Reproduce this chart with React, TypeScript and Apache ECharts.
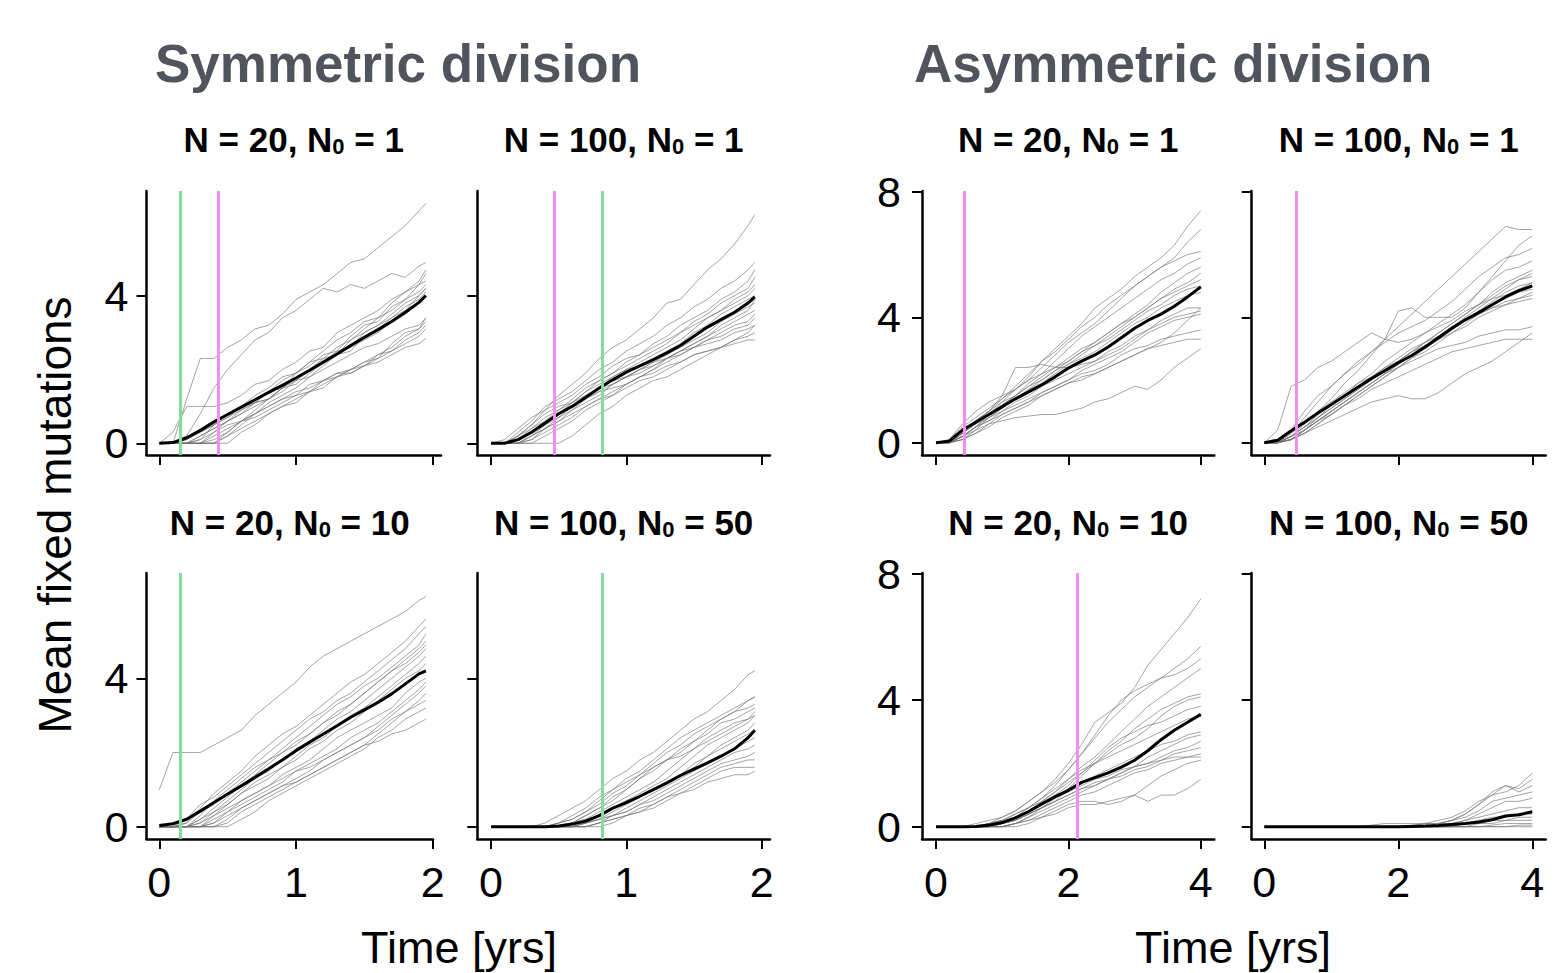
import React, { useEffect, useRef } from "react";
import * as echarts from "echarts";

// ---------- DATA ----------
const symX = [0, 0.1, 0.2, 0.3, 0.4, 0.5, 0.6, 0.7, 0.8, 0.9, 1.0, 1.1, 1.2, 1.3, 1.4, 1.5, 1.6, 1.7, 1.8, 1.9, 1.95];
const asymX = [0, 0.2, 0.4, 0.6, 0.8, 1.0, 1.2, 1.4, 1.6, 1.8, 2.0, 2.2, 2.4, 2.6, 2.8, 3.0, 3.2, 3.4, 3.6, 3.8, 4.0];

const symXTicks = [0, 1, 2];
const asymXTicks = [0, 2, 4];
const symYTicks = [0, 4];
const asymYTicks = [0, 4, 8];

// Symmetric, N = 20, N0 = 1
const symTLRuns = [
  [0, 0, 1.2, 2.3, 2.3, 2.6, 2.8, 3.1, 3.2, 3.5, 3.9, 4.1, 4.3, 4.6, 4.9, 5.0, 5.3, 5.6, 5.9, 6.3, 6.5],
  [0, 0, 0.2, 0.8, 1.5, 2.0, 2.4, 2.8, 3.0, 3.4, 3.6, 3.9, 4.2, 4.1, 4.3, 4.2, 4.4, 4.6, 4.5, 4.8, 4.9],
  [0, 0.3, 1, 1, 1, 1.1, 1.3, 1.6, 1.7, 2.0, 2.2, 2.5, 2.6, 3.0, 3.2, 3.4, 3.6, 3.9, 4.1, 4.4, 4.7],
  [0, 0, 0, 0.1, 0.5, 0.8, 1.0, 1.3, 1.5, 1.8, 1.9, 2.2, 2.5, 2.8, 3.0, 3.3, 3.4, 3.8, 4.1, 4.3, 4.6],
  [0, 0, 0, 0, 0.3, 0.6, 0.8, 1.1, 1.4, 1.5, 1.9, 2.1, 2.4, 2.5, 2.9, 3.2, 3.3, 3.7, 3.9, 4.3, 4.4],
  [0, 0, 0.1, 0.3, 0.5, 0.7, 1.0, 1.1, 1.4, 1.7, 1.9, 2.2, 2.3, 2.6, 2.8, 3.1, 3.4, 3.6, 3.9, 4.1, 4.3],
  [0, 0, 0, 0, 0, 0.3, 0.6, 0.9, 1.2, 1.4, 1.7, 2.0, 2.3, 2.4, 2.8, 3.0, 3.2, 3.5, 3.8, 4.0, 4.2],
  [0, 0, 0, 0.2, 0.4, 0.6, 0.8, 1.0, 1.2, 1.5, 1.6, 1.9, 2.2, 2.5, 2.6, 3.0, 3.2, 3.4, 3.7, 3.9, 4.1],
  [0, 0, 0, 0, 0.1, 0.3, 0.6, 0.7, 0.9, 1.1, 1.3, 1.4, 1.7, 1.8, 2.0, 2.1, 2.4, 2.6, 2.9, 3.1, 3.4],
  [0, 0, 0, 0, 0, 0.2, 0.4, 0.6, 0.8, 1.0, 1.2, 1.4, 1.5, 1.8, 2.0, 2.2, 2.3, 2.7, 3.0, 3.1, 3.3],
  [0, 0, 0, 0.1, 0.3, 0.5, 0.6, 0.8, 1.0, 1.2, 1.4, 1.5, 1.7, 1.9, 2.0, 2.2, 2.4, 2.5, 2.8, 3.0, 3.2],
  [0, 0, 0, 0, 0, 0, 0.3, 0.5, 0.8, 1.0, 1.1, 1.4, 1.6, 1.8, 1.9, 2.1, 2.3, 2.5, 2.7, 2.9, 3.1],
  [0, 0, 0, 0, 0.2, 0.4, 0.6, 0.8, 1.0, 1.2, 1.3, 1.6, 1.7, 1.9, 1.9, 2.1, 2.2, 2.4, 2.6, 2.7, 2.85],
  [0, 0, 0.1, 0.3, 0.5, 0.7, 0.9, 1.1, 1.2, 1.5, 1.7, 1.8, 2.0, 2.2, 2.4, 2.6, 2.7, 2.9, 3.1, 3.2, 3.4],
  [0, 0, 0, 0, 0, 0.2, 0.5, 0.8, 1.1, 1.3, 1.5, 1.8, 2.1, 2.4, 2.5, 2.9, 3.1, 3.4, 3.6, 4.0, 4.2],
  [0, 0, 0, 0.2, 0.4, 0.6, 0.9, 1.1, 1.2, 1.5, 1.8, 2.0, 2.2, 2.4, 2.6, 2.8, 3.0, 3.3, 3.5, 3.8, 4.0],
];
const symTLMean = [0, 0.02, 0.15, 0.35, 0.58, 0.78, 0.98, 1.18, 1.38, 1.57, 1.77, 1.98, 2.2, 2.42, 2.65, 2.87, 3.08, 3.3, 3.55, 3.82, 4.0];
const symTLGreen = [0.15];
const symTLPink = [0.43];

// Symmetric, N = 100, N0 = 1
const symTRRuns = [
  [0, 0, 0.2, 0.5, 0.9, 1.3, 1.6, 1.9, 2.3, 2.6, 2.8, 3.1, 3.4, 3.8, 3.9, 4.3, 4.7, 5.0, 5.4, 5.9, 6.2],
  [0, 0, 0.3, 0.6, 1.0, 1.2, 1.4, 1.7, 2.0, 2.2, 2.5, 2.7, 2.9, 3.2, 3.4, 3.7, 3.9, 4.2, 4.4, 4.7, 4.9],
  [0, 0.1, 0.4, 0.7, 0.9, 1.1, 1.3, 1.6, 1.8, 2.1, 2.3, 2.4, 2.7, 2.9, 3.2, 3.4, 3.6, 3.9, 4.1, 4.4, 4.7],
  [0, 0, 0.1, 0.3, 0.6, 0.9, 1.2, 1.5, 1.7, 1.9, 2.2, 2.4, 2.6, 2.8, 3.0, 3.3, 3.5, 3.8, 4.0, 4.2, 4.5],
  [0, 0, 0, 0.2, 0.5, 0.8, 1.1, 1.4, 1.7, 1.9, 2.1, 2.3, 2.5, 2.7, 3.0, 3.2, 3.4, 3.6, 3.9, 4.1, 4.3],
  [0, 0, 0.2, 0.4, 0.7, 0.9, 1.1, 1.4, 1.6, 1.8, 2.0, 2.2, 2.4, 2.6, 2.8, 3.1, 3.4, 3.6, 3.8, 4.0, 4.2],
  [0, 0, 0, 0.1, 0.4, 0.7, 1.0, 1.2, 1.5, 1.8, 2.0, 2.1, 2.3, 2.5, 2.7, 3.0, 3.2, 3.5, 3.7, 3.9, 4.0],
  [0, 0, 0.1, 0.3, 0.5, 0.7, 0.9, 1.1, 1.3, 1.6, 1.8, 2.0, 2.2, 2.4, 2.6, 2.8, 3.0, 3.3, 3.5, 3.7, 3.8],
  [0, 0, 0, 0.2, 0.4, 0.6, 0.9, 1.2, 1.4, 1.6, 1.8, 1.9, 2.1, 2.3, 2.5, 2.7, 2.9, 3.1, 3.3, 3.5, 3.6],
  [0, 0, 0, 0, 0, 0, 0.2, 0.5, 0.8, 1.0, 1.3, 1.5, 1.7, 1.8, 2.0, 2.2, 2.4, 2.6, 2.8, 3.0, 3.2],
  [0, 0, 0.1, 0.4, 0.6, 0.8, 1.0, 1.2, 1.5, 1.7, 1.8, 2.0, 2.2, 2.3, 2.5, 2.6, 2.8, 3.0, 3.2, 3.3, 3.5],
  [0, 0, 0, 0.1, 0.3, 0.5, 0.7, 1.0, 1.2, 1.4, 1.6, 1.8, 2.0, 2.2, 2.4, 2.6, 2.8, 2.9, 3.1, 3.2, 3.4],
  [0, 0, 0.2, 0.5, 0.8, 1.0, 1.1, 1.3, 1.5, 1.6, 1.8, 2.0, 2.1, 2.3, 2.4, 2.6, 2.7, 2.8, 3.0, 3.1, 3.2],
  [0, 0, 0, 0.2, 0.4, 0.6, 0.8, 1.0, 1.2, 1.3, 1.5, 1.7, 1.8, 2.0, 2.2, 2.4, 2.5, 2.6, 2.8, 2.9, 3.0],
  [0, 0, 0, 0, 0.2, 0.4, 0.6, 0.9, 1.1, 1.3, 1.6, 1.8, 2.0, 2.3, 2.5, 2.7, 2.9, 3.2, 3.4, 3.6, 3.9],
  [0, 0, 0.1, 0.3, 0.5, 0.8, 1.0, 1.2, 1.4, 1.5, 1.6, 1.8, 1.9, 2.1, 2.2, 2.4, 2.5, 2.6, 2.7, 2.8, 2.8],
];
const symTRMean = [0, 0, 0.1, 0.3, 0.55, 0.8, 1.0, 1.25, 1.5, 1.72, 1.93, 2.1, 2.27, 2.45, 2.65, 2.9, 3.15, 3.35, 3.55, 3.8, 3.97];
const symTRGreen = [0.818];
const symTRPink = [0.473];

// Symmetric, N = 20, N0 = 10
const symBLRuns = [
  [1, 2, 2, 2, 2.2, 2.4, 2.6, 3.0, 3.3, 3.6, 3.9, 4.3, 4.6, 4.8, 5.0, 5.2, 5.4, 5.6, 5.8, 6.1, 6.2],
  [0, 0, 0.1, 0.5, 0.9, 1.2, 1.5, 1.9, 2.2, 2.5, 2.7, 3.0, 3.3, 3.6, 3.9, 4.1, 4.4, 4.7, 5.0, 5.4, 5.6],
  [0, 0, 0.2, 0.6, 0.8, 1.1, 1.4, 1.7, 2.0, 2.3, 2.6, 2.9, 3.1, 3.4, 3.6, 3.9, 4.2, 4.5, 4.8, 5.2, 5.4],
  [0, 0, 0, 0.3, 0.7, 1.0, 1.3, 1.6, 1.8, 2.1, 2.4, 2.7, 3.0, 3.3, 3.5, 3.8, 4.0, 4.3, 4.6, 4.9, 5.2],
  [0, 0, 0, 0.2, 0.5, 0.8, 1.1, 1.4, 1.7, 2.0, 2.3, 2.5, 2.8, 3.1, 3.3, 3.6, 3.9, 4.2, 4.5, 4.8, 5.0],
  [0, 0, 0.1, 0.4, 0.6, 0.9, 1.2, 1.5, 1.8, 2.0, 2.2, 2.5, 2.8, 3.0, 3.3, 3.6, 3.9, 4.2, 4.4, 4.7, 4.9],
  [0, 0, 0, 0.1, 0.4, 0.7, 1.0, 1.3, 1.5, 1.8, 2.1, 2.3, 2.6, 2.9, 3.1, 3.4, 3.7, 4.0, 4.3, 4.6, 4.8],
  [0, 0, 0, 0, 0.3, 0.6, 0.9, 1.2, 1.4, 1.6, 1.9, 2.2, 2.4, 2.7, 3.0, 3.2, 3.5, 3.8, 4.1, 4.4, 4.6],
  [0, 0, 0, 0.2, 0.4, 0.6, 0.9, 1.1, 1.3, 1.6, 1.8, 2.1, 2.3, 2.6, 2.8, 3.1, 3.4, 3.7, 4.0, 4.2, 4.4],
  [0, 0, 0, 0, 0.1, 0.4, 0.7, 0.9, 1.1, 1.4, 1.6, 1.8, 2.1, 2.4, 2.6, 2.8, 3.0, 3.2, 3.6, 3.9, 4.0],
  [0, 0, 0, 0, 0.2, 0.4, 0.6, 0.8, 1.0, 1.2, 1.5, 1.7, 1.9, 2.1, 2.4, 2.6, 2.8, 3.1, 3.4, 3.7, 3.9],
  [0, 0, 0, 0, 0, 0.2, 0.5, 0.7, 0.9, 1.1, 1.3, 1.5, 1.8, 2.0, 2.2, 2.4, 2.7, 3.0, 3.3, 3.6, 3.8],
  [0, 0, 0, 0, 0, 0.1, 0.4, 0.6, 0.8, 1.0, 1.2, 1.4, 1.6, 1.8, 2.0, 2.2, 2.5, 2.8, 3.1, 3.4, 3.6],
  [0, 0, 0, 0.1, 0.3, 0.5, 0.7, 0.9, 1.1, 1.3, 1.5, 1.6, 1.8, 2.0, 2.2, 2.4, 2.6, 2.9, 3.1, 3.3, 3.4],
  [0, 0, 0, 0, 0, 0, 0.2, 0.4, 0.7, 0.9, 1.1, 1.3, 1.5, 1.7, 1.9, 2.1, 2.4, 2.6, 2.9, 3.1, 3.2],
  [0, 0, 0, 0, 0.1, 0.3, 0.5, 0.7, 0.9, 1.1, 1.2, 1.4, 1.6, 1.8, 2.0, 2.2, 2.3, 2.5, 2.6, 2.8, 2.9],
];
const symBLMean = [0.03, 0.08, 0.2, 0.42, 0.65, 0.88, 1.1, 1.33, 1.56, 1.8, 2.05, 2.28, 2.5, 2.72, 2.95, 3.15, 3.35, 3.58, 3.85, 4.12, 4.2];
const symBLGreen = [0.151];
const symBLPink: number[] = [];

// Symmetric, N = 100, N0 = 50
const symBRRuns = [
  [0, 0, 0, 0, 0.1, 0.3, 0.5, 0.7, 1.0, 1.3, 1.5, 1.8, 2.0, 2.3, 2.6, 2.9, 3.1, 3.4, 3.7, 4.1, 4.2],
  [0, 0, 0, 0, 0, 0.1, 0.3, 0.5, 0.8, 1.0, 1.3, 1.5, 1.8, 2.1, 2.4, 2.6, 2.8, 3.0, 3.2, 3.4, 3.5],
  [0, 0, 0, 0, 0, 0.1, 0.2, 0.4, 0.6, 0.9, 1.1, 1.4, 1.7, 2.0, 2.2, 2.5, 2.7, 2.9, 3.1, 3.2, 3.3],
  [0, 0, 0, 0, 0, 0, 0.1, 0.3, 0.5, 0.7, 1.0, 1.3, 1.6, 1.8, 2.0, 2.3, 2.5, 2.8, 2.9, 3.1, 3.2],
  [0, 0, 0, 0, 0, 0, 0.1, 0.2, 0.4, 0.6, 0.8, 1.0, 1.2, 1.5, 1.8, 2.1, 2.4, 2.6, 2.8, 2.9, 3.1],
  [0, 0, 0, 0, 0, 0, 0, 0.1, 0.3, 0.5, 0.7, 0.9, 1.1, 1.3, 1.6, 1.9, 2.2, 2.4, 2.6, 2.8, 3.0],
  [0, 0, 0, 0, 0, 0, 0, 0.1, 0.2, 0.4, 0.6, 0.8, 1.0, 1.2, 1.4, 1.6, 1.9, 2.2, 2.4, 2.6, 2.8],
  [0, 0, 0, 0, 0, 0, 0.1, 0.2, 0.3, 0.5, 0.7, 0.8, 1.0, 1.2, 1.4, 1.7, 1.9, 2.1, 2.3, 2.5, 2.6],
  [0, 0, 0, 0, 0, 0, 0, 0.1, 0.2, 0.3, 0.5, 0.7, 0.9, 1.1, 1.3, 1.5, 1.7, 1.9, 2.1, 2.3, 2.4],
  [0, 0, 0, 0, 0, 0, 0, 0, 0.1, 0.3, 0.4, 0.6, 0.8, 1.0, 1.2, 1.4, 1.6, 1.8, 2.0, 2.1, 2.2],
  [0, 0, 0, 0, 0, 0, 0, 0.1, 0.2, 0.3, 0.4, 0.6, 0.7, 0.9, 1.1, 1.3, 1.5, 1.7, 1.8, 1.9, 2.0],
  [0, 0, 0, 0, 0, 0, 0, 0, 0.1, 0.2, 0.3, 0.5, 0.6, 0.8, 1.0, 1.2, 1.4, 1.6, 1.7, 1.8, 1.8],
  [0, 0, 0, 0, 0, 0, 0, 0, 0, 0.1, 0.3, 0.4, 0.6, 0.8, 0.9, 1.1, 1.3, 1.5, 1.6, 1.6, 1.6],
  [0, 0, 0, 0, 0, 0, 0, 0, 0.1, 0.2, 0.3, 0.4, 0.5, 0.7, 0.9, 1.0, 1.2, 1.3, 1.4, 1.4, 1.5],
  [0, 0, 0, 0, 0, 0, 0.1, 0.3, 0.5, 0.8, 1.0, 1.3, 1.5, 1.8, 2.1, 2.3, 2.6, 2.9, 3.1, 3.4, 3.5],
  [0, 0, 0, 0, 0, 0.1, 0.2, 0.4, 0.7, 1.0, 1.2, 1.4, 1.6, 1.8, 1.9, 2.1, 2.3, 2.5, 2.7, 2.9, 3.0],
];
const symBRMean = [0, 0, 0, 0, 0, 0.02, 0.07, 0.15, 0.3, 0.5, 0.65, 0.82, 1.0, 1.18, 1.38, 1.55, 1.72, 1.9, 2.1, 2.4, 2.6];
const symBRGreen = [0.818];
const symBRPink: number[] = [];

// Asymmetric, N = 20, N0 = 1
const asymTLRuns = [
  [0, 0, 0.3, 0.6, 0.9, 1.3, 1.7, 2.1, 2.6, 3.0, 3.4, 3.8, 4.3, 4.6, 4.9, 5.3, 5.6, 5.9, 6.3, 6.9, 7.4],
  [0, 0.1, 0.5, 0.8, 1.1, 1.4, 1.8, 2.2, 2.6, 2.9, 3.3, 3.7, 4.0, 4.4, 4.7, 5.0, 5.3, 5.6, 5.9, 6.4, 6.8],
  [0, 0, 0.4, 0.7, 1.0, 1.4, 1.7, 2.0, 2.4, 2.8, 3.2, 3.5, 3.8, 4.2, 4.6, 5.0, 5.3, 5.6, 5.8, 6.0, 6.1],
  [0, 0, 0.2, 0.5, 0.9, 1.2, 1.5, 1.9, 2.2, 2.6, 3.0, 3.4, 3.7, 4.0, 4.3, 4.6, 4.9, 5.2, 5.4, 5.7, 5.9],
  [0, 0, 0.3, 0.7, 1.0, 1.3, 1.5, 1.8, 2.1, 2.4, 2.7, 3.0, 3.2, 3.5, 3.8, 4.1, 4.4, 4.8, 5.1, 5.4, 5.6],
  [0, 0, 0.1, 0.4, 0.8, 1.1, 1.4, 1.7, 2.0, 2.3, 2.6, 2.9, 3.2, 3.5, 3.8, 4.0, 4.3, 4.6, 4.9, 5.1, 5.4],
  [0, 0.1, 0.6, 1.0, 1.3, 1.5, 1.7, 2.0, 2.2, 2.4, 2.6, 2.9, 3.1, 3.4, 3.7, 4.0, 4.3, 4.6, 4.8, 5.0, 5.2],
  [0, 0, 0.2, 0.5, 0.8, 1.1, 1.4, 1.7, 1.9, 2.2, 2.5, 2.8, 3.1, 3.3, 3.6, 3.9, 4.2, 4.4, 4.7, 4.9, 5.0],
  [0, 0, 0.3, 0.6, 0.9, 1.2, 1.5, 1.8, 2.0, 2.3, 2.5, 2.7, 2.9, 3.2, 3.5, 3.8, 4.0, 4.3, 4.5, 4.7, 4.8],
  [0, 0, 0.3, 0.7, 1.0, 1.5, 2.4, 2.4, 2.5, 2.4, 2.4, 2.5, 2.6, 2.8, 3.0, 3.3, 3.6, 3.9, 4.1, 4.3, 4.3],
  [0, 0, 0.2, 0.5, 0.7, 1.0, 1.3, 1.5, 1.8, 2.0, 2.2, 2.4, 2.6, 2.9, 3.1, 3.4, 3.6, 3.8, 4.0, 4.1, 4.2],
  [0, 0, 0.1, 0.3, 0.6, 0.9, 1.1, 1.3, 1.6, 1.8, 2.0, 2.3, 2.5, 2.7, 2.9, 3.2, 3.5, 3.7, 3.9, 4.0, 4.1],
  [0, 0, 0.4, 0.6, 0.8, 1.0, 1.2, 1.4, 1.6, 1.8, 2.0, 2.2, 2.3, 2.5, 2.8, 3.0, 3.1, 3.3, 3.4, 3.5, 3.6],
  [0, 0, 0.2, 0.5, 0.7, 0.9, 1.1, 1.3, 1.5, 1.7, 1.9, 2.0, 2.2, 2.4, 2.6, 2.8, 3.0, 3.1, 3.2, 3.3, 3.3],
  [0, 0, 0.2, 0.4, 0.6, 0.7, 0.8, 0.85, 0.9, 0.9, 1.0, 1.1, 1.3, 1.4, 1.6, 1.8, 1.7, 2.0, 2.4, 2.7, 3.0],
  [0, 0, 0.1, 0.3, 0.5, 0.8, 1.0, 1.2, 1.5, 1.7, 1.9, 2.1, 2.2, 2.4, 2.6, 2.8, 3.0, 3.2, 3.5, 3.9, 4.3],
];
const asymTLMean = [0, 0.05, 0.4, 0.65, 0.9, 1.15, 1.4, 1.62, 1.85, 2.1, 2.38, 2.6, 2.8, 3.05, 3.35, 3.65, 3.9, 4.1, 4.35, 4.65, 4.97];
const asymTLGreen: number[] = [];
const asymTLPink = [0.43];

// Asymmetric, N = 100, N0 = 1
const asymTRRuns = [
  [0, 0, 0.4, 1.0, 1.5, 1.8, 2.2, 2.6, 2.9, 3.3, 3.7, 4.1, 4.5, 4.9, 5.3, 5.7, 6.1, 6.5, 6.9, 6.8, 6.8],
  [0, 0, 0.3, 0.6, 1.0, 1.4, 1.9, 2.3, 2.8, 3.3, 4.2, 4.3, 4.0, 4.0, 4.0, 4.3, 4.8, 5.3, 5.8, 6.3, 6.6],
  [0, 0, 0.3, 0.8, 1.3, 1.8, 2.2, 2.5, 2.9, 3.2, 3.5, 3.7, 3.9, 4.2, 4.5, 4.9, 5.3, 5.6, 5.9, 6.0, 6.2],
  [0, 0, 0.2, 0.5, 0.8, 1.2, 1.5, 1.9, 2.2, 2.6, 2.9, 3.2, 3.5, 3.8, 4.1, 4.4, 4.8, 5.2, 5.5, 5.6, 5.8],
  [0, 0, 0.1, 0.4, 0.8, 1.1, 1.4, 1.7, 2.0, 2.3, 2.6, 2.9, 3.2, 3.5, 3.8, 4.1, 4.4, 4.8, 5.1, 5.3, 5.5],
  [0, 0, 0.2, 0.5, 0.9, 1.2, 1.5, 1.8, 2.1, 2.4, 2.7, 3.0, 3.2, 3.5, 3.8, 4.1, 4.4, 4.7, 5.0, 5.2, 5.4],
  [0, 0, 0.1, 0.4, 0.7, 1.0, 1.3, 1.6, 1.9, 2.2, 2.5, 2.8, 3.1, 3.4, 3.7, 4.0, 4.3, 4.6, 4.9, 5.2, 5.3],
  [0, 0, 0.2, 0.6, 1.0, 1.3, 1.6, 1.9, 2.1, 2.4, 2.6, 2.9, 3.2, 3.4, 3.7, 3.9, 4.2, 4.5, 4.8, 5.0, 5.1],
  [0, 0, 0.1, 0.3, 0.6, 0.9, 1.2, 1.5, 1.8, 2.1, 2.4, 2.7, 3.0, 3.3, 3.6, 3.9, 4.2, 4.4, 4.6, 4.8, 4.9],
  [0, 0, 0.1, 0.4, 0.7, 1.0, 1.3, 1.6, 1.9, 2.2, 2.4, 2.7, 2.9, 3.2, 3.5, 3.7, 4.0, 4.2, 4.4, 4.6, 4.8],
  [0, 0, 0.2, 0.5, 0.8, 1.1, 1.4, 1.7, 2.0, 2.3, 2.6, 2.9, 3.1, 3.3, 3.5, 3.8, 4.1, 4.3, 4.5, 4.6, 4.7],
  [0, 0.4, 1.8, 2.0, 2.4, 2.6, 2.9, 3.2, 3.5, 3.3, 3.2, 3.3, 3.5, 3.7, 3.9, 4.2, 4.4, 4.6, 4.7, 4.9, 5.1],
  [0, 0, 0.1, 0.3, 0.5, 0.7, 0.9, 1.1, 1.3, 1.4, 1.5, 1.4, 1.4, 1.6, 1.9, 2.2, 2.4, 2.6, 2.9, 3.2, 3.5],
  [0, 0, 0.1, 0.4, 0.7, 0.9, 1.2, 1.4, 1.7, 1.9, 2.1, 2.3, 2.5, 2.7, 2.9, 3.0, 3.1, 3.2, 3.3, 3.3, 3.3],
  [0, 0, 0.2, 0.4, 0.7, 1.0, 1.3, 1.6, 1.9, 2.2, 2.5, 2.8, 3.1, 3.3, 3.6, 3.9, 4.1, 4.3, 4.4, 4.5, 4.6],
  [0, 0, 0.1, 0.3, 0.6, 0.9, 1.2, 1.5, 1.8, 2.1, 2.4, 2.6, 2.8, 3.0, 3.1, 3.2, 3.4, 3.5, 3.6, 3.6, 3.7],
];
const asymTRMean = [0, 0.08, 0.38, 0.65, 0.95, 1.22, 1.5, 1.78, 2.05, 2.3, 2.55, 2.78, 3.05, 3.35, 3.65, 3.92, 4.15, 4.4, 4.65, 4.85, 5.0];
const asymTRGreen: number[] = [];
const asymTRPink = [0.48];

// Asymmetric, N = 20, N0 = 10
const asymBLRuns = [
  [0, 0, 0, 0.1, 0.2, 0.3, 0.5, 0.8, 1.1, 1.5, 2.0, 2.6, 3.3, 3.6, 3.9, 4.4, 5.1, 5.6, 6.1, 6.6, 7.2],
  [0, 0, 0, 0, 0.1, 0.3, 0.5, 0.8, 1.1, 1.4, 1.8, 2.3, 2.9, 3.5, 4.0, 4.3, 4.5, 4.7, 5.0, 5.3, 5.7],
  [0, 0, 0, 0, 0.1, 0.2, 0.4, 0.6, 0.9, 1.3, 1.8, 2.3, 2.8, 3.3, 3.7, 4.1, 4.4, 4.7, 4.8, 5.0, 5.3],
  [0, 0, 0, 0, 0, 0.1, 0.3, 0.6, 0.8, 1.1, 1.5, 1.9, 2.2, 2.6, 3.0, 3.4, 3.8, 4.1, 4.4, 4.7, 5.0],
  [0, 0, 0, 0, 0.1, 0.2, 0.3, 0.5, 0.8, 1.1, 1.4, 1.7, 2.0, 2.4, 2.7, 3.1, 3.4, 3.7, 3.9, 4.1, 4.2],
  [0, 0, 0, 0, 0, 0.1, 0.2, 0.4, 0.6, 0.8, 1.2, 1.6, 2.0, 2.3, 2.6, 2.8, 3.1, 3.5, 3.8, 4.0, 4.1],
  [0, 0, 0, 0, 0, 0.1, 0.3, 0.5, 0.7, 1.0, 1.3, 1.7, 2.1, 2.5, 2.8, 3.0, 3.2, 3.3, 3.5, 3.7, 3.8],
  [0, 0, 0, 0, 0.1, 0.2, 0.4, 0.6, 0.9, 1.2, 1.5, 1.8, 2.0, 2.2, 2.4, 2.6, 2.8, 3.0, 3.2, 3.4, 3.5],
  [0, 0, 0, 0, 0, 0, 0.1, 0.3, 0.6, 0.9, 1.2, 1.4, 1.6, 1.8, 2.0, 2.2, 2.4, 2.6, 2.7, 2.9, 3.0],
  [0, 0, 0, 0, 0, 0.1, 0.2, 0.4, 0.6, 0.8, 1.0, 1.2, 1.4, 1.5, 1.7, 1.9, 2.2, 2.4, 2.6, 2.8, 2.9],
  [0, 0, 0, 0, 0, 0, 0.1, 0.3, 0.5, 0.7, 0.9, 1.1, 1.3, 1.5, 1.7, 1.9, 2.0, 2.2, 2.4, 2.5, 2.7],
  [0, 0, 0, 0, 0, 0.1, 0.2, 0.4, 0.6, 0.8, 1.0, 1.2, 1.3, 1.5, 1.6, 1.8, 1.9, 2.1, 2.2, 2.2, 2.3],
  [0, 0, 0, 0, 0, 0, 0.1, 0.2, 0.4, 0.6, 0.8, 1.0, 1.1, 1.3, 1.5, 1.7, 1.8, 2.0, 2.1, 2.2, 2.2],
  [0, 0, 0, 0, 0, 0, 0, 0.1, 0.3, 0.5, 0.7, 0.8, 0.8, 0.7, 0.8, 1.0, 1.3, 1.6, 1.8, 2.0, 2.1],
  [0, 0, 0, 0, 0, 0, 0.1, 0.2, 0.3, 0.4, 0.6, 0.7, 0.7, 0.8, 0.9, 1.0, 0.8, 1.0, 1.0, 1.2, 1.5],
  [0, 0, 0, 0, 0, 0.1, 0.3, 0.5, 0.7, 0.9, 1.1, 1.3, 1.5, 1.6, 1.8, 1.9, 2.0, 2.1, 2.3, 2.4, 2.5],
];
const asymBLMean = [0, 0, 0, 0.01, 0.05, 0.13, 0.28, 0.48, 0.72, 0.95, 1.15, 1.4, 1.55, 1.7, 1.88, 2.1, 2.4, 2.75, 3.05, 3.3, 3.55];
const asymBLGreen: number[] = [];
const asymBLPink = [2.125];

// Asymmetric, N = 100, N0 = 50
const asymBRRuns = [
  [0, 0, 0, 0, 0, 0, 0, 0, 0, 0, 0, 0, 0, 0.1, 0.2, 0.4, 0.7, 1.0, 1.1, 1.3, 1.7],
  [0, 0, 0, 0, 0, 0, 0, 0, 0, 0, 0, 0, 0.1, 0.1, 0.2, 0.4, 0.7, 1.1, 1.3, 1.2, 1.5],
  [0, 0, 0, 0, 0, 0, 0, 0, 0.05, 0.1, 0.1, 0.1, 0.1, 0.2, 0.3, 0.5, 0.8, 1.0, 1.3, 1.1, 1.3],
  [0, 0, 0, 0, 0, 0, 0, 0, 0, 0, 0, 0, 0, 0.1, 0.2, 0.3, 0.5, 0.8, 0.9, 1.0, 1.1],
  [0, 0, 0, 0, 0, 0, 0, 0, 0, 0, 0, 0, 0, 0, 0.1, 0.2, 0.4, 0.6, 0.8, 0.8, 0.9],
  [0, 0, 0, 0, 0, 0, 0, 0, 0, 0, 0, 0.05, 0.1, 0.1, 0.1, 0.2, 0.3, 0.4, 0.5, 0.6, 0.6],
  [0, 0, 0, 0, 0, 0, 0, 0, 0, 0, 0, 0, 0, 0, 0, 0.1, 0.2, 0.3, 0.3, 0.4, 0.4],
  [0, 0, 0, 0, 0, 0, 0, 0, 0, 0, 0, 0, 0, 0, 0.05, 0.1, 0.1, 0.2, 0.2, 0.3, 0.3],
  [0, 0, 0, 0, 0, 0, 0, 0, 0, 0, 0, 0, 0, 0, 0, 0, 0.1, 0.1, 0.2, 0.2, 0.2],
  [0, 0, 0, 0, 0, 0, 0, 0, 0, 0, 0, 0, 0, 0, 0, 0, 0, 0.05, 0.1, 0.1, 0.1],
  [0, 0, 0, 0, 0, 0, 0, 0, 0, 0, 0, 0, 0, 0, 0, 0, 0, 0, 0, 0.05, 0.05],
  [0, 0, 0, 0, 0, 0, 0, 0, 0, 0, 0, 0, 0, 0, 0, 0, 0, 0, 0, 0, 0],
];
const asymBRMean = [0, 0, 0, 0, 0, 0, 0, 0, 0, 0, 0, 0.01, 0.02, 0.04, 0.07, 0.1, 0.15, 0.22, 0.34, 0.38, 0.47];
const asymBRGreen: number[] = [];
const asymBRPink: number[] = [];

// ---------- STYLE / LAYOUT ----------
const FONT = '"Liberation Sans", Arial, Helvetica, sans-serif';
const GREEN = "#86dc9b";
const PINK = "#f28ef2";
const GRAY = "rgba(115,115,115,0.65)";

type Panel = {
  title: [string, string];
  x: number[];
  runs: number[][];
  mean: number[];
  green: number[];
  pink: number[];
  xTicks: number[];
  yTicks: number[];
  left: number; right: number; top: number; bottom: number;
  x0: number; xPpu: number; y0: number; yPpu: number;
  showXLabels: boolean; showYLabels: boolean; yLabelMargin: number;
};

const symTop = { top: 191, bottom: 455, y0: 443.3, yPpu: 36.9 };
const symBot = { top: 573, bottom: 839, y0: 826.7, yPpu: 37.1 };
const asyTop = { top: 191, bottom: 455, y0: 442.7, yPpu: 31.35 };
const asyBot = { top: 573, bottom: 839, y0: 826.7, yPpu: 31.65 };

const panels: Panel[] = [
  { title: ["N = 20, N", " = 1"], x: symX, runs: symTLRuns, mean: symTLMean, green: symTLGreen, pink: symTLPink, xTicks: symXTicks, yTicks: symYTicks,
    left: 146.5, right: 441, ...symTop, x0: 159.3, xPpu: 136.7, showXLabels: false, showYLabels: true, yLabelMargin: 18 },
  { title: ["N = 100, N", " = 1"], x: symX, runs: symTRRuns, mean: symTRMean, green: symTRGreen, pink: symTRPink, xTicks: symXTicks, yTicks: symYTicks,
    left: 477.3, right: 770, ...symTop, x0: 491, xPpu: 135.3, showXLabels: false, showYLabels: false, yLabelMargin: 18 },
  { title: ["N = 20, N", " = 10"], x: symX, runs: symBLRuns, mean: symBLMean, green: symBLGreen, pink: symBLPink, xTicks: symXTicks, yTicks: symYTicks,
    left: 146.5, right: 433, ...symBot, x0: 159.3, xPpu: 136.7, showXLabels: true, showYLabels: true, yLabelMargin: 18 },
  { title: ["N = 100, N", " = 50"], x: symX, runs: symBRRuns, mean: symBRMean, green: symBRGreen, pink: symBRPink, xTicks: symXTicks, yTicks: symYTicks,
    left: 477.3, right: 770, ...symBot, x0: 491, xPpu: 135.3, showXLabels: true, showYLabels: false, yLabelMargin: 18 },
  { title: ["N = 20, N", " = 1"], x: asymX, runs: asymTLRuns, mean: asymTLMean, green: asymTLGreen, pink: asymTLPink, xTicks: asymXTicks, yTicks: asymYTicks,
    left: 922, right: 1214.3, ...asyTop, x0: 936, xPpu: 66.2, showXLabels: false, showYLabels: true, yLabelMargin: 21 },
  { title: ["N = 100, N", " = 1"], x: asymX, runs: asymTRRuns, mean: asymTRMean, green: asymTRGreen, pink: asymTRPink, xTicks: asymXTicks, yTicks: asymYTicks,
    left: 1251.7, right: 1545.7, ...asyTop, x0: 1264.3, xPpu: 67, showXLabels: false, showYLabels: false, yLabelMargin: 21 },
  { title: ["N = 20, N", " = 10"], x: asymX, runs: asymBLRuns, mean: asymBLMean, green: asymBLGreen, pink: asymBLPink, xTicks: asymXTicks, yTicks: asymYTicks,
    left: 922, right: 1214.3, ...asyBot, x0: 936, xPpu: 66.2, showXLabels: true, showYLabels: true, yLabelMargin: 21 },
  { title: ["N = 100, N", " = 50"], x: asymX, runs: asymBRRuns, mean: asymBRMean, green: asymBRGreen, pink: asymBRPink, xTicks: asymXTicks, yTicks: asymYTicks,
    left: 1251.7, right: 1545.7, ...asyBot, x0: 1264.3, xPpu: 67, showXLabels: true, showYLabels: false, yLabelMargin: 21 },
];

function buildOption() {
  const grid: any[] = [];
  const xAxis: any[] = [];
  const yAxis: any[] = [];
  const series: any[] = [];
  const title: any[] = [
    { text: "Symmetric division", left: 155, top: 37, padding: 0,
      textStyle: { fontSize: 53, fontWeight: "bold", color: "#50555d", fontFamily: FONT } },
    { text: "Asymmetric division", left: 914, top: 37, padding: 0,
      textStyle: { fontSize: 53, fontWeight: "bold", color: "#50555d", fontFamily: FONT } },
  ];

  panels.forEach((p, i) => {
    grid.push({ left: p.left, top: p.top, width: p.right - p.left, height: p.bottom - p.top, containLabel: false });
    const axisLine = { show: true, onZero: false, lineStyle: { color: "#000", width: 2.5 } };
    xAxis.push({
      gridIndex: i, type: "value",
      min: (p.left - p.x0) / p.xPpu, max: (p.right - p.x0) / p.xPpu,
      axisLine,
      axisTick: { show: true, length: 10, lineStyle: { color: "#000", width: 2 }, customValues: p.xTicks },
      axisLabel: { show: p.showXLabels, customValues: p.xTicks, fontSize: 43, color: "#000", fontFamily: FONT, margin: 21 },
      splitLine: { show: false },
    });
    yAxis.push({
      gridIndex: i, type: "value",
      min: (p.y0 - p.bottom) / p.yPpu, max: (p.y0 - p.top) / p.yPpu,
      axisLine,
      axisTick: { show: true, length: 10, lineStyle: { color: "#000", width: 2 }, customValues: p.yTicks },
      axisLabel: { show: p.showYLabels, customValues: p.yTicks, fontSize: 43, color: "#000", fontFamily: FONT, margin: p.yLabelMargin },
      splitLine: { show: false },
    });

    p.runs.forEach((run) => {
      series.push({
        type: "line", xAxisIndex: i, yAxisIndex: i, silent: true, symbol: "none", showSymbol: false, z: 2,
        data: p.x.map((xv, j) => [xv, run[j]]),
        lineStyle: { color: GRAY, width: 1 },
      });
    });

    const marks = [
      ...p.green.map((v) => ({ xAxis: v, lineStyle: { color: GREEN, width: 3, type: "solid" } })),
      ...p.pink.map((v) => ({ xAxis: v, lineStyle: { color: PINK, width: 3, type: "solid" } })),
    ];
    series.push({
      type: "line", xAxisIndex: i, yAxisIndex: i, silent: true, symbol: "none", showSymbol: false, z: 4,
      data: p.x.map((xv, j) => [xv, p.mean[j]]),
      lineStyle: { color: "#000", width: 3 },
      markLine: marks.length ? { silent: true, symbol: ["none", "none"], label: { show: false }, data: marks, animation: false } : undefined,
    });

    const cx = (p.left + p.right) / 2;
    const ty = p.top < 300 ? 117 : 500;
    title.push({
      text: `{a|${p.title[0]}}{s|0}{a|${p.title[1]}}`,
      left: cx, top: ty, textAlign: "center", padding: 0,
      textStyle: {
        rich: {
          a: { fontSize: 35, fontWeight: "bold", color: "#000", fontFamily: FONT, lineHeight: 40, verticalAlign: "bottom" },
          s: { fontSize: 22, fontWeight: "bold", color: "#000", fontFamily: FONT, lineHeight: 19, verticalAlign: "bottom" },
        },
      },
    });
  });

  const graphic: any[] = [
    { type: "text", x: 55, y: 515, rotation: Math.PI / 2,
      style: { text: "Mean fixed mutations", font: `46px ${FONT}`, fill: "#000", align: "center", verticalAlign: "middle" } },
    { type: "text", x: 459, y: 947,
      style: { text: "Time [yrs]", font: `45px ${FONT}`, fill: "#000", align: "center", verticalAlign: "middle" } },
    { type: "text", x: 1233, y: 947,
      style: { text: "Time [yrs]", font: `45px ${FONT}`, fill: "#000", align: "center", verticalAlign: "middle" } },
  ];

  return { animation: false, backgroundColor: "#fff", title, grid, xAxis, yAxis, series, graphic };
}

export default function App() {
  const ref = useRef<HTMLDivElement>(null);
  useEffect(() => {
    if (!ref.current) return;
    const chart = echarts.init(ref.current, undefined, { renderer: "svg" });
    chart.setOption(buildOption() as any);
    return () => chart.dispose();
  }, []);
  return (
    <div
      ref={ref}
      style={{ position: "fixed", left: 0, top: 0, width: "1561px", height: "973px", background: "#fff" }}
    />
  );
}
